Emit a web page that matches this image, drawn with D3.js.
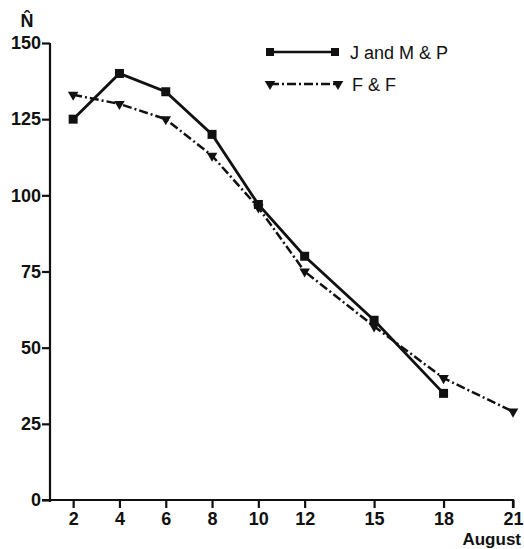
<!DOCTYPE html>
<html>
<head>
<meta charset="utf-8">
<script src="https://cdn.jsdelivr.net/npm/d3@7"></script>
<style>
  body { margin: 0; background: #fff; }
  text { font-family: "Liberation Sans", Arial, sans-serif; font-weight: bold; fill: #111; }
  .axis path, .axis line { stroke: #111; stroke-width: 2.2; }
</style>
</head>
<body>
<script>
// Data
var days = [2, 4, 6, 8, 10, 12, 15, 18, 21];
var jmpDays = [2, 4, 6, 8, 10, 12, 15, 18];
var jmpValues = [125, 140, 134, 120, 97, 80, 59, 35];
var ffDays = [2, 4, 6, 8, 10, 12, 15, 18, 21];
var ffValues = [133, 130, 125, 113, 96, 75, 57, 40, 29];
var yTicks = [0, 25, 50, 75, 100, 125, 150];

var width = 524, height = 549;

var svg = d3.select("body").append("svg")
    .attr("width", width)
    .attr("height", height);

var x = d3.scaleLinear().domain([1, 21]).range([50, 513]);
var y = d3.scaleLinear().domain([0, 150]).range([500, 43]);

// y axis
var yAxis = svg.append("g")
    .attr("class", "axis")
    .attr("transform", "translate(50,0)")
    .call(d3.axisLeft(y).tickValues(yTicks).tickSize(8).tickSizeOuter(0).tickPadding(1));
yAxis.selectAll("text").style("font-size", "18px");
yAxis.select(".domain").attr("d", "M0,43V502");

// x axis
var xAxis = svg.append("g")
    .attr("class", "axis")
    .attr("transform", "translate(0,500)")
    .call(d3.axisBottom(x).tickValues(days).tickSize(8).tickSizeOuter(0).tickPadding(4));
xAxis.selectAll("text").style("font-size", "18px");
xAxis.select(".domain").attr("d", "M42,0H513V8");

svg.append("text")
    .attr("x", 27)
    .attr("y", 27)
    .attr("text-anchor", "middle")
    .style("font-size", "18px")
    .text("N\u0302");

svg.append("text")
    .attr("x", 521)
    .attr("y", 545)
    .attr("text-anchor", "end")
    .style("font-size", "17px")
    .text("August");

var line = d3.line()
    .x(function(d) { return x(d[0]); })
    .y(function(d) { return y(d[1]); });

var jmp = d3.zip(jmpDays, jmpValues);
var ff = d3.zip(ffDays, ffValues);

svg.append("path")
    .datum(ff)
    .attr("fill", "none")
    .attr("stroke", "#111")
    .attr("stroke-width", 2.5)
    .attr("stroke-dasharray", "9,3,2,3")
    .attr("d", line);

svg.append("path")
    .datum(jmp)
    .attr("fill", "none")
    .attr("stroke", "#111")
    .attr("stroke-width", 2.8)
    .attr("d", line);

var tri = d3.symbol().type(d3.symbolTriangle).size(48);

svg.selectAll(".tri")
    .data(ff)
  .enter().append("path")
    .attr("class", "tri")
    .attr("fill", "#111")
    .attr("d", tri)
    .attr("transform", function(d) { return "translate(" + x(d[0]) + "," + y(d[1]) + ") rotate(180)"; });

svg.selectAll(".sq")
    .data(jmp)
  .enter().append("rect")
    .attr("class", "sq")
    .attr("fill", "#111")
    .attr("x", function(d) { return x(d[0]) - 4.5; })
    .attr("y", function(d) { return y(d[1]) - 4.5; })
    .attr("width", 9)
    .attr("height", 9);

// legend
var legend = svg.append("g");
legend.append("line")
    .attr("x1", 270).attr("x2", 335).attr("y1", 52).attr("y2", 52)
    .attr("stroke", "#111").attr("stroke-width", 2.6);
[270, 335].forEach(function(cx) {
  legend.append("rect").attr("x", cx - 4).attr("y", 48).attr("width", 8).attr("height", 8).attr("fill", "#111");
});
legend.append("text").attr("x", 350).attr("y", 59)
    .style("font-size", "18px").style("font-weight", "normal").text("J  and  M & P");

legend.append("line")
    .attr("x1", 270).attr("x2", 338).attr("y1", 84).attr("y2", 84)
    .attr("stroke", "#111").attr("stroke-width", 2.4)
    .attr("stroke-dasharray", "9,3,2,3");
[270, 338].forEach(function(cx) {
  legend.append("path").attr("d", tri).attr("fill", "#111")
      .attr("transform", "translate(" + cx + ",84) rotate(180)");
});
legend.append("text").attr("x", 352).attr("y", 91)
    .style("font-size", "18px").style("font-weight", "normal").text("F  &  F");
</script>
</body>
</html>
